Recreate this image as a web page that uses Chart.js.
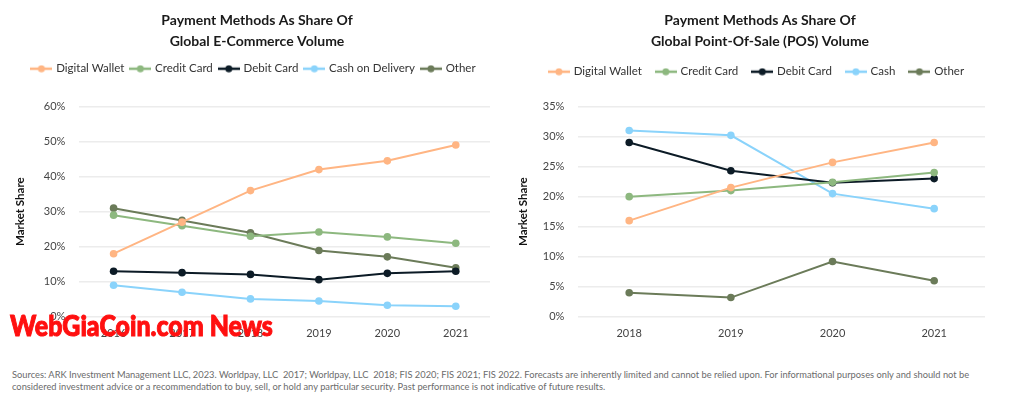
<!DOCTYPE html>
<html>
<head>
<meta charset="utf-8">
<script src="https://cdn.jsdelivr.net/npm/chart.js@4.4.1/dist/chart.umd.min.js"></script>
<style>
  html, body { margin: 0; padding: 0; background: #fff; }
  body { width: 1024px; height: 406px; position: relative; overflow: hidden; font-family: Lato, sans-serif; }
  .box { position: absolute; top: 0; width: 512px; height: 350px; }
  #wm { position: absolute; left: 10px; top: 307px; color: #ff1010; -webkit-text-stroke: 1px #ff1010; font-family: Lato, Roboto, sans-serif; font-weight: 900; font-size: 29px; line-height: 36px; white-space: nowrap; transform-origin: 0 0; }
  #note { position: absolute; left: 12px; top: 369px; width: 1000px; font-size: 9.3px; line-height: 11.5px; color: #6b6b6b; }
</style>
</head>
<body>
<div class="box" style="left:0"><canvas id="ecom"></canvas></div>
<div class="box" style="left:512px"><canvas id="pos"></canvas></div>
<div id="wm">WebGiaCoin.com News</div>
<div id="note">Sources: ARK Investment Management LLC, 2023. Worldpay, LLC&nbsp; 2017; Worldpay, LLC&nbsp; 2018; FIS 2020; FIS 2021; FIS 2022. Forecasts are inherently limited and cannot be relied upon. For informational purposes only and should not be considered investment advice or a recommendation to buy, sell, or hold any particular security. Past performance is not indicative of future results.</div>
<script>
// e-commerce chart
const ecomYears = ['2016', '2017', '2018', '2019', '2020', '2021'];
const ecomWallet = [18, 27, 36, 42, 44.5, 49];
const ecomCredit = [29, 26, 23, 24.2, 22.8, 21];
const ecomDebit = [13, 12.6, 12.1, 10.6, 12.4, 13];
const ecomCod = [9, 7, 5.1, 4.5, 3.3, 3];
const ecomOther = [31, 27.5, 24, 18.9, 17.1, 14];

// point-of-sale chart
const posYears = ['2018', '2019', '2020', '2021'];
const posWallet = [16, 21.5, 25.7, 29];
const posCredit = [20, 21, 22.4, 24];
const posDebit = [29, 24.3, 22.3, 23];
const posCash = [31, 30.2, 20.5, 18];
const posOther = [4, 3.2, 9.2, 6];

const colors = {
  wallet: '#ffb583',
  credit: '#8db87f',
  debit: '#0c1b26',
  cash: '#8ad3fb',
  other: '#6b7b59'
};

// line + dot marker for the legend
function marker(color) {
  const c = document.createElement('canvas');
  c.width = 22; c.height = 8;
  const g = c.getContext('2d');
  g.strokeStyle = color; g.lineWidth = 2.5;
  g.beginPath(); g.moveTo(0, 4); g.lineTo(22, 4); g.stroke();
  g.fillStyle = color;
  g.beginPath(); g.arc(11, 4, 3.5, 0, Math.PI * 2); g.fill();
  return c;
}

function ds(label, data, color) {
  return {
    label: label,
    data: data,
    borderColor: color,
    backgroundColor: color,
    borderWidth: 2,
    pointRadius: 3.8,
    pointHoverRadius: 3.8,
    pointBorderWidth: 0,
    tension: 0
  };
}

// push the plot a bit lower under the legend, and nudge title/legend sideways
const layoutTweak = {
  id: 'layoutTweak',
  beforeInit(chart) {
    const fit = chart.legend.fit;
    const extra = chart.options.plugins.layoutTweak.extra;
    chart.legend.fit = function () {
      fit.bind(chart.legend)();
      this.height += extra;
    };
  },
  afterLayout(chart, args, opts) {
    chart.titleBlock.left += opts.title; chart.titleBlock.right += opts.title;
    chart.legend.left += opts.legend; chart.legend.right += opts.legend;
  }
};

function makeChart(id, labels, sets, yMax, step, pad, titleLines, shift, titlePadBottom, legendGap, titleGap) {
  return new Chart(document.getElementById(id), {
    type: 'line',
    data: { labels: labels, datasets: sets },
    plugins: [layoutTweak],
    options: {
      responsive: true,
      maintainAspectRatio: false,
      animation: false,
      layout: { padding: pad },
      plugins: {
        layoutTweak: shift,
        title: {
          display: true,
          text: titleLines,
          color: '#1a1a1a',
          font: { family: 'Lato', size: 14, weight: 'bold', lineHeight: 1.5 },
          padding: { top: 10, bottom: titleGap }
        },
        legend: {
          labels: {
            usePointStyle: true,
            pointStyleWidth: 18,
            color: '#333',
            padding: legendGap,
            font: { family: 'Lato', size: 11.5 },
            generateLabels(chart) {
              const items = Chart.defaults.plugins.legend.labels.generateLabels(chart);
              items.forEach((it, i) => { it.pointStyle = marker(chart.data.datasets[i].borderColor); });
              return items;
            }
          }
        },
        tooltip: { enabled: false }
      },
      scales: {
        x: {
          offset: true,
          grid: { display: false, drawTicks: false },
          border: { display: false },
          ticks: { color: '#444', padding: 10, font: { family: 'Lato', size: 11 } }
        },
        y: {
          min: 0,
          max: yMax,
          grid: { color: '#ececec', lineWidth: 1.5, drawTicks: false },
          border: { display: false },
          ticks: {
            stepSize: step,
            color: '#444',
            padding: 14,
            font: { family: 'Lato', size: 11 },
            callback: v => v + '%'
          },
          title: {
            display: true,
            text: 'Market Share',
            color: '#111',
            font: { family: 'Lato', size: 11.5, weight: 'bold' },
            padding: { top: 3, bottom: titlePadBottom }
          }
        }
      }
    }
  });
}

makeChart('ecom', ecomYears, [
  ds('Digital Wallet', ecomWallet, colors.wallet),
  ds('Credit Card', ecomCredit, colors.credit),
  ds('Debit Card', ecomDebit, colors.debit),
  ds('Cash on Delivery', ecomCod, colors.cash),
  ds('Other', ecomOther, colors.other)
], 60, 10, { left: 10, right: 22, top: 0, bottom: 0 },
  ['Payment Methods As Share Of', 'Global E-Commerce Volume'], { title: 7, legend: 4, extra: 22 }, 3, 7, 4);

makeChart('pos', posYears, [
  ds('Digital Wallet', posWallet, colors.wallet),
  ds('Credit Card', posCredit, colors.credit),
  ds('Debit Card', posDebit, colors.debit),
  ds('Cash', posCash, colors.cash),
  ds('Other', posOther, colors.other)
], 35, 5, { left: 1, right: 39, top: 0, bottom: 0 },
  ['Payment Methods As Share Of', 'Global Point-Of-Sale (POS) Volume'], { title: 11, legend: 8, extra: 19 }, -1, 15, -1);

// squeeze the watermark to its width in the picture
const wm = document.getElementById('wm');
wm.style.transform = 'scaleX(' + (263 / wm.offsetWidth) + ')';
</script>
</body>
</html>
